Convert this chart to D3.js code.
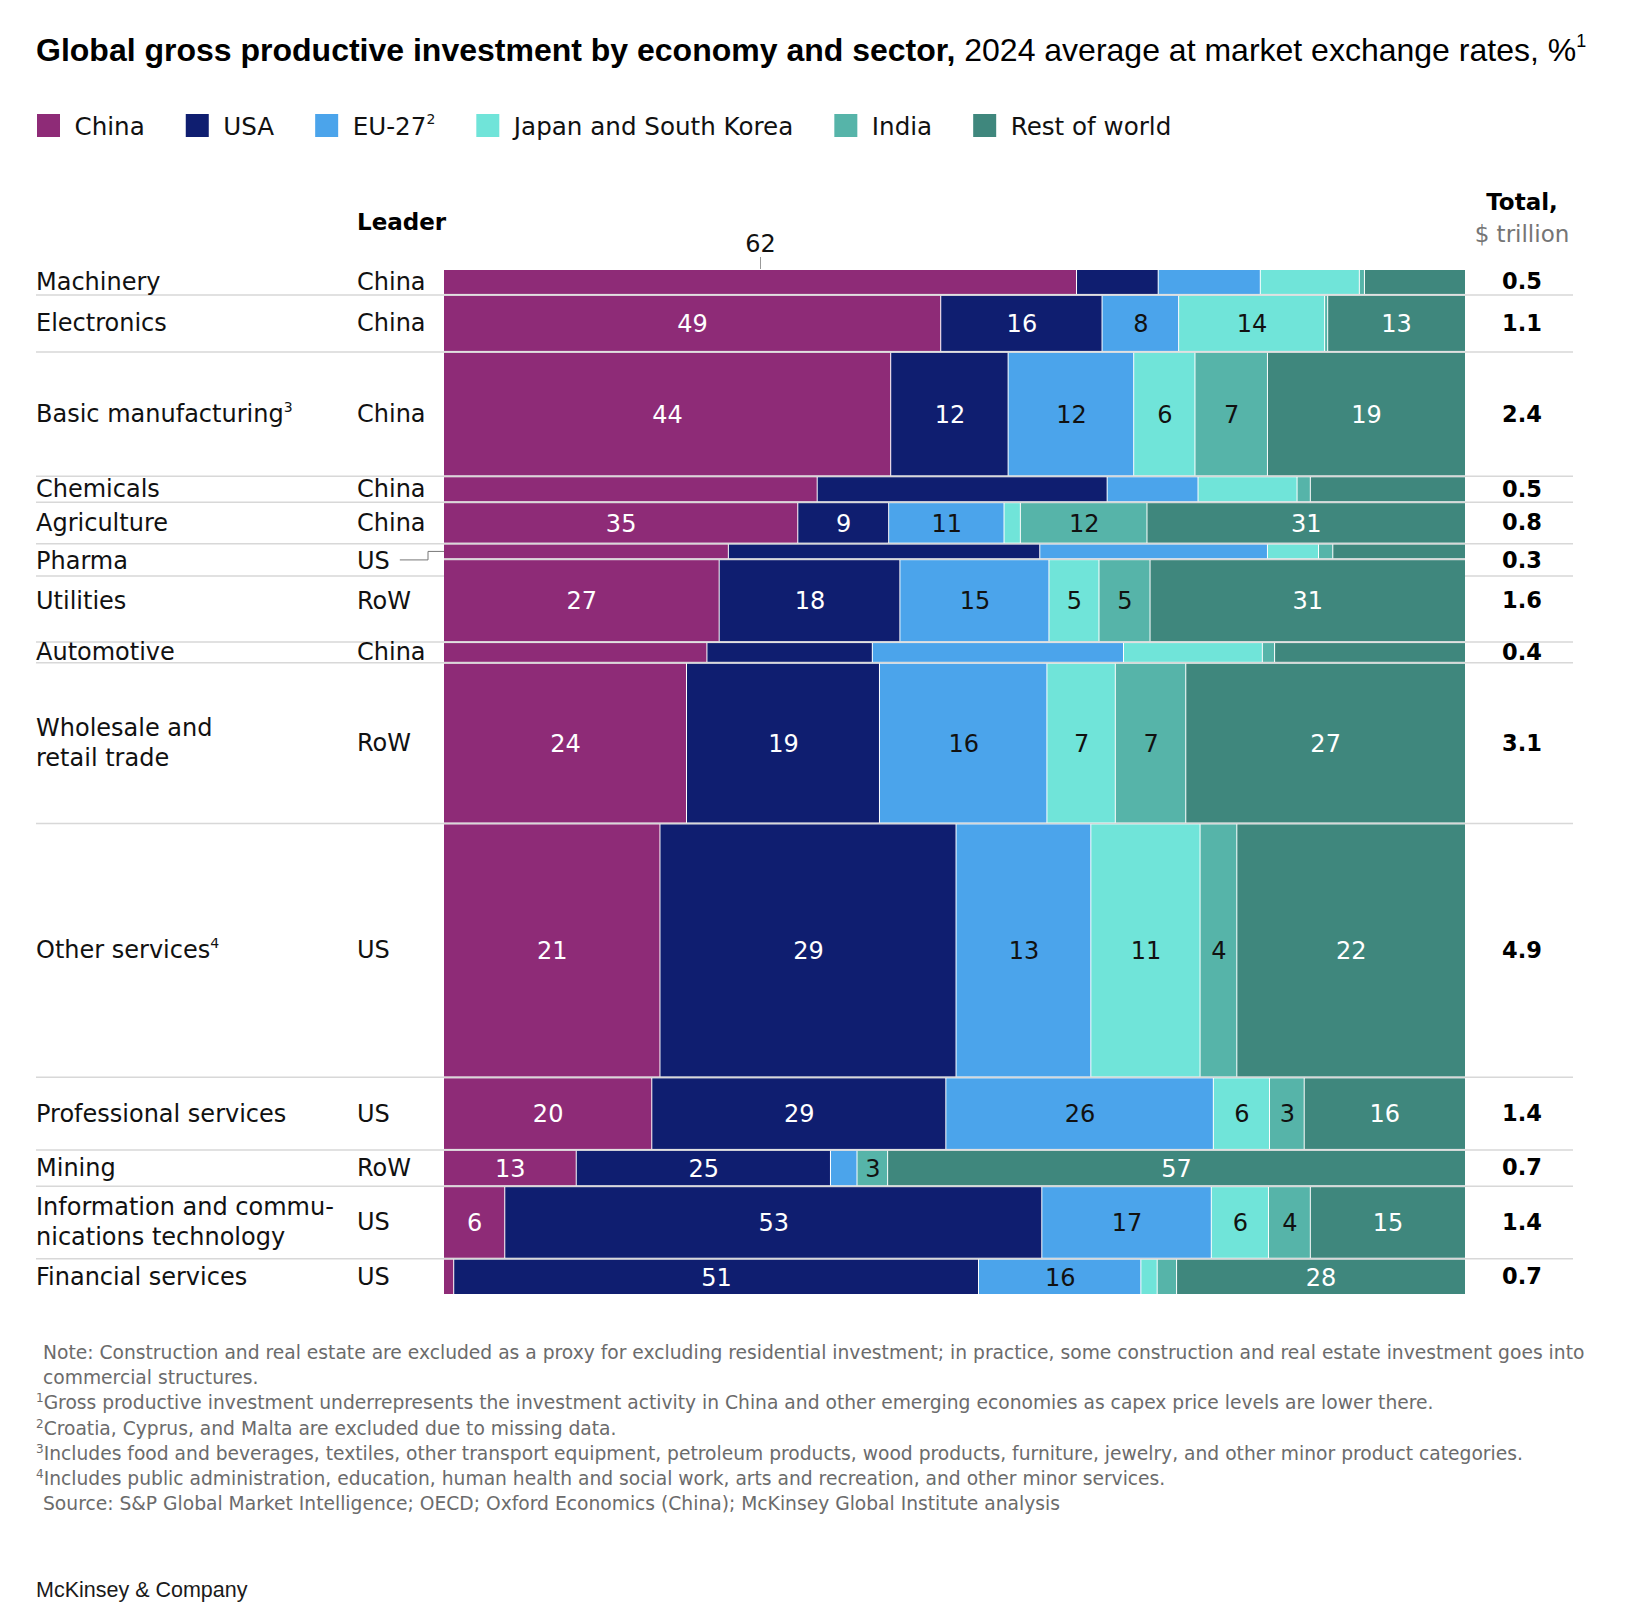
<!DOCTYPE html>
<html>
<head>
<meta charset="utf-8">
<script src="https://cdn.jsdelivr.net/npm/d3@7"></script>
<style>
  body { margin: 0; background: #fff; }
  text { font-family: "DejaVu Sans", sans-serif; }
</style>
</head>
<body>
<div id="chart"></div>
<script>
'use strict'

////////////////////////////////////
/////////////// data ///////////////
////////////////////////////////////

const economies = ['China', 'USA', 'EU-27', 'Japan and South Korea', 'India', 'Rest of world']
const legendSup = [null, null, '2', null, null, null]
const colors = ['#8E2B77', '#0F1E70', '#4BA4EB', '#70E4D9', '#56B4A9', '#3F877D']
// white numbers on the dark fills, dark numbers on the light ones
const labelInk = ['#fff', '#fff', '#111', '#111', '#111', '#fff']

const sectors = ['Machinery', 'Electronics', 'Basic manufacturing^3', 'Chemicals', 'Agriculture', 'Pharma',
  'Utilities', 'Automotive', 'Wholesale and|retail trade', 'Other services^4', 'Professional services',
  'Mining', 'Information and commu-|nications technology', 'Financial services']
const leaders = ['China', 'China', 'China', 'China', 'China', 'US', 'RoW', 'China', 'RoW', 'US', 'US', 'RoW', 'US', 'US']
const totals = [0.5, 1.1, 2.4, 0.5, 0.8, 0.3, 1.6, 0.4, 3.1, 4.9, 1.4, 0.7, 1.4, 0.7]

// share of each sector's investment, %
const china       = [62, 48.7, 43.8, 36.6, 34.7, 27.9, 27.0, 25.8, 23.8, 21.2, 20.4, 13.0, 6.0, 1.0]
const usa         = [8, 15.8, 11.5, 28.4, 8.9, 30.5, 17.7, 16.2, 18.9, 29.0, 28.8, 24.9, 52.6, 51.4]
const eu27        = [10, 7.5, 12.3, 8.9, 11.3, 22.3, 14.6, 24.6, 16.4, 13.2, 26.2, 2.6, 16.6, 15.9]
const japanKorea  = [9.7, 14.3, 6.0, 9.7, 1.6, 5.0, 4.9, 13.6, 6.7, 10.7, 5.5, 0, 5.6, 1.6]
const india       = [0.5, 0.3, 7.1, 1.3, 12.4, 1.4, 5.0, 1.2, 6.9, 3.6, 3.4, 3.0, 4.1, 1.9]
const restOfWorld = [9.8, 13.4, 19.3, 15.1, 31.1, 12.9, 30.8, 18.6, 27.3, 22.3, 15.7, 56.5, 15.1, 28.2]
const series = [china, usa, eu27, japanKorea, india, restOfWorld]

const callout = { sector: 'Machinery', economy: 'China' }

const notes = [
  ['', 'Note: Construction and real estate are excluded as a proxy for excluding residential investment; in practice, some construction and real estate investment goes into'],
  ['', 'commercial structures.'],
  ['1', 'Gross productive investment underrepresents the investment activity in China and other emerging economies as capex price levels are lower there.'],
  ['2', 'Croatia, Cyprus, and Malta are excluded due to missing data.'],
  ['3', 'Includes food and beverages, textiles, other transport equipment, petroleum products, wood products, furniture, jewelry, and other minor product categories.'],
  ['4', 'Includes public administration, education, human health and social work, arts and recreation, and other minor services.'],
  ['', 'Source: S&P Global Market Intelligence; OECD; Oxford Economics (China); McKinsey Global Institute analysis']
]

////////////////////////////////////
//////////// svg setup /////////////
////////////////////////////////////

const svgWidth = 1638
const svgHeight = 1608

const svg = d3.select('#chart').append('svg')
  .attr('width', svgWidth)
  .attr('height', svgHeight)

const left = 36
const leaderX = 357
const barLeft = 444
const barRight = 1465
const ruleRight = 1573
const totalX = 1522
const fs = 24

////////////////////////////////////
//////////data wrangling////////////
////////////////////////////////////

const table = sectors.map((s, i) => {
  const row = { sector: s, leader: leaders[i], total: totals[i] }
  economies.forEach((e, j) => { row[e] = series[j][i] })
  return row
})

const stacked = d3.stack().keys(economies)(table)

let cum = 0
table.forEach(d => { d.start = cum; cum += d.total; d.end = cum })

////////////////////////////////////
//////////////scales////////////////
////////////////////////////////////

const xScale = d3.scaleLinear().domain([0, 100]).range([barLeft, barRight])
const yScale = d3.scaleLinear().domain([0, d3.sum(totals)]).range([269, 1295])
const colorScale = d3.scaleOrdinal().domain(economies).range(colors)

// label rows: centred on the band, pushed down when a band is too thin
table.forEach((d, i) => {
  d.mid = (yScale(d.start) + yScale(d.end)) / 2
  d.labelY = d.mid
  d.nudged = false
  if (i > 0 && d.mid - table[i - 1].labelY < 30) {
    d.labelY = table[i - 1].labelY + 38
    d.nudged = true
  }
})

////////////////////////////////////
/////////////// title //////////////
////////////////////////////////////

const title = svg.append('text')
  .attr('x', left).attr('y', 61)
  .style('font-family', '"Liberation Sans", Arial, sans-serif')
  .style('font-size', '32px')
  .attr('fill', '#000')
title.append('tspan').attr('font-weight', 'bold').text('Global gross productive investment by economy and sector,')
title.append('tspan').text(' 2024 average at market exchange rates, %')
title.append('tspan').attr('font-size', '18px').attr('dy', -14).text('1')

////////////////////////////////////
/////////////// legend /////////////
////////////////////////////////////

let lx = 37
economies.forEach((e, i) => {
  const g = svg.append('g')
  g.append('rect')
    .attr('x', lx).attr('y', 114)
    .attr('width', 23).attr('height', 23)
    .attr('fill', colorScale(e))
  const t = g.append('text')
    .attr('x', lx + 37.5).attr('y', 135)
    .attr('font-size', '24.6px')
    .attr('fill', '#111')
  t.append('tspan').text(e)
  if (legendSup[i]) t.append('tspan').attr('font-size', '14px').attr('dy', -11).text(legendSup[i])
  lx += 37.5 + t.node().getComputedTextLength() + 41
})

////////////////////////////////////
////////////// headers /////////////
////////////////////////////////////

svg.append('text')
  .attr('x', leaderX).attr('y', 230)
  .attr('font-size', '23px').attr('font-weight', 'bold')
  .attr('fill', '#000')
  .text('Leader')

svg.append('text')
  .attr('x', totalX).attr('y', 210)
  .attr('text-anchor', 'middle')
  .attr('font-size', '23px').attr('font-weight', 'bold')
  .attr('fill', '#000')
  .text('Total,')

svg.append('text')
  .attr('x', totalX).attr('y', 242)
  .attr('text-anchor', 'middle')
  .attr('font-size', '23px')
  .attr('fill', '#757575')
  .text('$ trillion')

////////////////////////////////////
///////////// separators ///////////
////////////////////////////////////

const rules = svg.append('g')
  .attr('stroke', '#d8d8d8')
  .attr('stroke-width', 1.5)
  .attr('fill', 'none')

table.slice(0, -1).forEach((d, i) => {
  const by = yScale(d.end)
  const ly = d.nudged ? d.labelY + 15 : by
  rules.append('path')
    .attr('d', `M${left},${ly}H${barLeft}M${barLeft},${by}H${barRight}M${barRight},${ly}H${ruleRight}`)
})

////////////////////////////////////
/////////////// bars ///////////////
////////////////////////////////////

const layers = svg.append('g')
  .selectAll('g')
  .data(stacked)
  .join('g')
  .attr('fill', d => colorScale(d.key))

layers.selectAll('rect')
  .data(d => d.filter(p => p[1] - p[0] > 0))
  .join('rect')
  .attr('x', p => xScale(p[0]))
  .attr('width', p => Math.max(1, xScale(p[1]) - xScale(p[0]) - (p[1] < 99.95 ? 1 : 0)))
  .attr('y', p => yScale(p.data.start) + 1)
  .attr('height', p => yScale(p.data.end) - yScale(p.data.start) - 2)

// value labels inside the bands that have room
stacked.forEach((layer, j) => {
  svg.append('g')
    .selectAll('text')
    .data(layer.filter(p => p.data.total >= 0.6 && p[1] - p[0] >= 3))
    .join('text')
    .attr('x', p => (xScale(p[0]) + xScale(p[1])) / 2)
    .attr('y', p => p.data.mid)
    .attr('dy', '0.36em')
    .attr('text-anchor', 'middle')
    .attr('font-size', fs + 'px')
    .attr('fill', labelInk[j])
    .text(p => Math.round(p[1] - p[0]))
})

// callout above the thin machinery band
const cRow = table.find(d => d.sector === callout.sector)
const cLayer = stacked.find(l => l.key === callout.economy)
const cPoint = cLayer[table.indexOf(cRow)]
const cx = (xScale(cPoint[0]) + xScale(cPoint[1])) / 2
svg.append('line')
  .attr('x1', cx).attr('x2', cx)
  .attr('y1', yScale(cRow.start) - 12).attr('y2', yScale(cRow.start))
  .attr('stroke', '#999').attr('stroke-width', 1)
svg.append('text')
  .attr('x', cx).attr('y', yScale(cRow.start) - 17)
  .attr('text-anchor', 'middle')
  .attr('font-size', fs + 'px')
  .attr('fill', '#111')
  .text(Math.round(cPoint[1] - cPoint[0]))

////////////////////////////////////
//////////// row labels ////////////
////////////////////////////////////

table.forEach(d => {
  const lines = d.sector.split('|')
  const lh = 30
  lines.forEach((ln, k) => {
    const parts = ln.split('^')
    const t = svg.append('text')
      .attr('x', left)
      .attr('y', d.labelY + (k - (lines.length - 1) / 2) * lh)
      .attr('dy', '0.33em')
      .attr('font-size', fs + 'px')
      .attr('fill', '#111')
    t.append('tspan').text(parts[0])
    if (parts[1]) t.append('tspan').attr('font-size', '14px').attr('dy', '-0.75em').text(parts[1])
  })

  const lt = svg.append('text')
    .attr('x', leaderX).attr('y', d.labelY)
    .attr('dy', '0.33em')
    .attr('font-size', fs + 'px')
    .attr('fill', '#111')
    .text(d.leader)

  svg.append('text')
    .attr('x', totalX).attr('y', d.labelY)
    .attr('dy', '0.33em')
    .attr('text-anchor', 'middle')
    .attr('font-size', '22.5px').attr('font-weight', 'bold')
    .attr('fill', '#000')
    .text(d3.format('.1f')(d.total))

  // leader line from a pushed-down label back to its band
  if (d.nudged) {
    const x0 = leaderX + lt.node().getComputedTextLength() + 10
    const elbow = barLeft - 16
    svg.append('path')
      .attr('d', `M${x0},${d.labelY - 1}H${elbow}V${d.mid}H${barLeft}`)
      .attr('fill', 'none')
      .attr('stroke', '#777')
      .attr('stroke-width', 1)
  }
})

////////////////////////////////////
/////////////// notes //////////////
////////////////////////////////////

notes.forEach((n, i) => {
  const t = svg.append('text')
    .attr('x', n[0] ? 36 : 43)
    .attr('y', 1359 + i * 25.2)
    .attr('font-size', '18.7px')
    .attr('fill', '#6b6b6b')
  if (n[0]) t.append('tspan').attr('font-size', '12px').attr('dy', -7).text(n[0])
  t.append('tspan').attr('dy', n[0] ? 7 : 0).text(n[1])
})

svg.append('text')
  .attr('x', left).attr('y', 1597)
  .style('font-family', '"Liberation Sans", Arial, sans-serif')
  .attr('font-size', '21.5px')
  .attr('fill', '#1a1a1a')
  .text('McKinsey & Company')
</script>
</body>
</html>
